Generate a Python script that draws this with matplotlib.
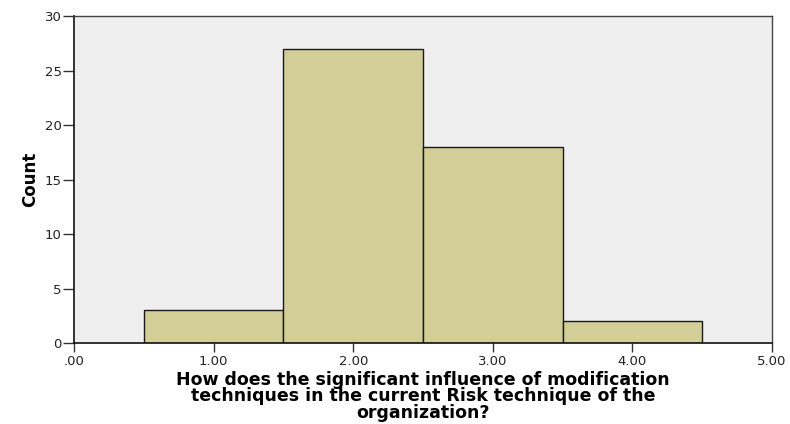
import matplotlib
matplotlib.use("Agg")
import matplotlib.pyplot as plt

# Response categories and their counts
categories = [1.0, 2.0, 3.0, 4.0]
counts = [3, 27, 18, 2]
x_ticks = [0, 1, 2, 3, 4, 5]
x_tick_labels = [".00", "1.00", "2.00", "3.00", "4.00", "5.00"]
y_ticks = [0, 5, 10, 15, 20, 25, 30]
x_title = ("How does the significant influence of modification\n"
           "techniques in the current Risk technique of the\n"
           "organization?")

plt.rcParams["font.family"] = ["DejaVu Sans"]

fig = plt.figure(figsize=(7.9, 4.24), dpi=100)
ax = fig.add_axes([0.0937, 0.191, 0.8835, 0.771])
ax.set_facecolor("#EFEFEF")

ax.bar(categories, counts, width=1.0, color="#D3CE98",
       edgecolor="#1a1a1a", linewidth=1.0, zorder=2)

ax.set_xlim(0, 5)
ax.set_ylim(0, 30)
ax.set_xticks(x_ticks)
ax.set_xticklabels(x_tick_labels)
ax.set_yticks(y_ticks)

for lab in ax.get_xticklabels() + ax.get_yticklabels():
    lab.set_fontsize(9.5)
    lab.set_color("#222222")

ax.tick_params(axis="both", direction="out", width=1.0, color="#333333")
ax.tick_params(axis="x", length=6.5, pad=2)
ax.tick_params(axis="y", length=8, pad=1)

for side in ("left", "bottom"):
    ax.spines[side].set_color("#111111")
    ax.spines[side].set_linewidth(1.2)
for side in ("top", "right"):
    ax.spines[side].set_color("#444444")
    ax.spines[side].set_linewidth(1.0)

ax.set_ylabel("Count", fontweight="bold", fontsize=12, labelpad=4)
ax.set_xlabel(x_title, fontweight="bold", fontsize=12.5, linespacing=0.9, labelpad=2)

fig.savefig("out.png", dpi=100)
